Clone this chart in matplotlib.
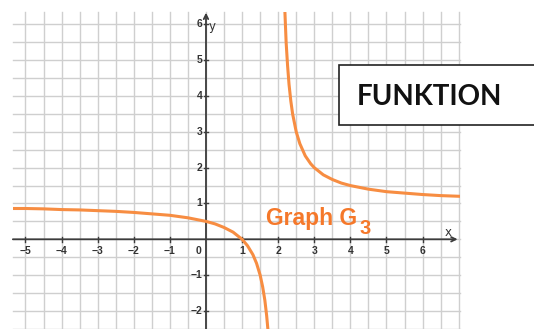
import numpy as np
import matplotlib.pyplot as plt
from matplotlib.patches import Rectangle

# branch left of the pole at x = 2
left_x = [-5.35, -5, -4.5, -4, -3.5, -3, -2.5, -2, -1.5, -1, -0.5, 0, 0.25,
          0.5, 0.75, 1, 1.15, 1.3, 1.4, 1.5, 1.57, 1.63, 1.68, 1.72]
left_y = [0.86, 0.86, 0.85, 0.83, 0.82, 0.80, 0.78, 0.75, 0.71, 0.67, 0.60,
          0.50, 0.43, 0.33, 0.20, 0.0, -0.18, -0.43, -0.67, -1.0, -1.33,
          -1.70, -2.13, -2.57]

# branch right of the pole
right_x = [2.15, 2.18, 2.22, 2.26, 2.3, 2.35, 2.4, 2.5, 2.6, 2.75, 2.9, 3,
           3.25, 3.5, 3.75, 4, 4.5, 5, 5.5, 6, 6.5, 7.05]
right_y = [7.7, 6.5, 5.5, 4.85, 4.33, 3.86, 3.5, 3.0, 2.67, 2.33, 2.11, 2.0,
           1.8, 1.67, 1.57, 1.5, 1.4, 1.33, 1.29, 1.25, 1.22, 1.2]

x_ticks = [-5, -4, -3, -2, -1, 1, 2, 3, 4, 5, 6]
y_ticks = [-2, -1, 1, 2, 3, 4, 5, 6]

orange = '#f78d42'
axis_col = '#3c3c3c'
grid_col = '#cfcfcf'

fig = plt.figure(figsize=(5.34, 3.29), dpi=100)
ax = fig.add_axes([0, 0, 1, 1])
ax.set_xlim(-5.706, 9.086)
ax.set_ylim(-2.506, 6.684)
ax.set_axis_off()

# paper grid, every half unit
x0, x1, y0, y1 = -5.35, 7.05, -2.6, 6.35
for gx in np.arange(-5, 7.01, 0.5):
    ax.plot([gx, gx], [y0, y1], color=grid_col, lw=1.0, zorder=1)
for gy in np.arange(-2.5, 6.01, 0.5):
    ax.plot([x0, x1], [gy, gy], color=grid_col, lw=1.0, zorder=1)

# coordinate axes with arrows
ax.annotate('', xy=(6.97, 0), xytext=(x0, 0),
            arrowprops=dict(arrowstyle='->', color=axis_col, lw=1.3,
                            shrinkA=0, shrinkB=0, mutation_scale=8), zorder=3)
ax.annotate('', xy=(0, 6.33), xytext=(0, y0),
            arrowprops=dict(arrowstyle='->', color=axis_col, lw=1.3,
                            shrinkA=0, shrinkB=0, mutation_scale=8), zorder=3)

tick_font = dict(fontsize=7.5, fontweight='bold', color='#333333',
                 family='Liberation Sans')
for t in x_ticks:
    ax.plot([t, t], [-0.08, 0.06], color=axis_col, lw=1, zorder=3)
    lab = str(t).replace('-', '\u2212')
    ax.text(t, -0.34, lab, ha='center', va='center', **tick_font)
ax.text(-0.2, -0.34, '0', ha='center', va='center', **tick_font)
for t in y_ticks:
    ax.plot([-0.06, 0.06], [t, t], color=axis_col, lw=1, zorder=3)
    lab = str(t).replace('-', '\u2212')
    ax.text(-0.1, t, lab, ha='right', va='center', **tick_font)
ax.text(0.08, 5.93, 'y', ha='left', va='center', fontsize=8.5,
        color='#333333', family='DejaVu Sans')
ax.text(6.7, 0.2, 'x', ha='center', va='center', fontsize=8.5,
        color='#333333', family='DejaVu Sans')

# the graph, clipped to the grid
clip = Rectangle((x0, y0), x1 - x0, y1 - y0, transform=ax.transData)
for xs, ys in [(left_x, left_y), (right_x, right_y)]:
    line, = ax.plot(xs, ys, color=orange, lw=2.2, zorder=4,
                    solid_capstyle='butt')
    line.set_clip_path(clip)

# label of the graph
fig.text(266 / 534, 1 - 225 / 329, 'Graph G', ha='left', va='baseline',
         fontsize=16.5, fontweight='bold', color='#f5782a',
         family='Liberation Sans')
fig.text(359 / 534, 1 - 234 / 329, '3', ha='left', va='baseline',
         fontsize=14.5, fontweight='bold', color='#f5782a',
         family='Liberation Sans')

# title box
box = Rectangle((339 / 534, 1 - 125 / 329), 220 / 534, 60 / 329,
                transform=fig.transFigure, facecolor='white',
                edgecolor='#222222', lw=1.2, zorder=5)
fig.patches.append(box)
fig.text(429 / 534, 1 - 97 / 329, 'FUNKTION', ha='center', va='center',
         fontsize=20, fontweight='bold', color='#111111', family='Lato',
         zorder=6)

fig.savefig('out.png', dpi=100)
